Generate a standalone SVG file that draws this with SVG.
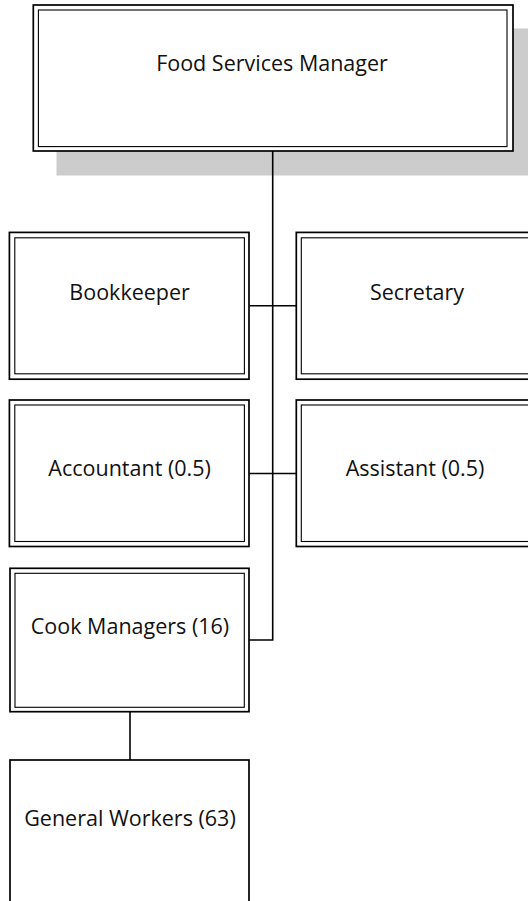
<svg xmlns="http://www.w3.org/2000/svg" width="528" height="901" viewBox="0 0 528 901">
  <style>
    .outer { fill: none; stroke: #000; stroke-width: 1.7; }
    .inner { fill: none; stroke: #000; stroke-width: 1.1; }
    .bg { fill: #fff; }
    .shadow { fill: #cccccc; }
    .label { font-family: "Open Sans", "Noto Sans", sans-serif; font-size: 21.5px; fill: #111; text-anchor: middle; }
    .link { fill: none; stroke: #000; stroke-width: 1.6; }
  </style>
  <rect width="528" height="901" fill="#fff"/>

  <!-- top manager box with drop shadow -->
  <g id="food-services-manager">
    <rect class="shadow" x="56.5" y="28.5" width="480" height="147"/>
    <rect class="bg" x="33.3" y="5" width="479.7" height="146"/>
    <rect class="outer" x="33.3" y="5" width="479.7" height="146"/>
    <rect class="inner" x="38.4" y="10" width="468.6" height="136.6"/>
    <text class="label" x="272" y="71">Food Services Manager</text>
  </g>

  <!-- connectors -->
  <g id="connectors">
    <polyline class="link" points="272.7,151 272.7,640 249,640"/>
    <line class="link" x1="249" y1="305.8" x2="296.3" y2="305.8"/>
    <line class="link" x1="249" y1="473.5" x2="296.3" y2="473.5"/>
    <line class="link" x1="130" y1="711.7" x2="130" y2="760"/>
  </g>

  <g id="bookkeeper">
    <rect class="bg outer" x="9.4" y="232.4" width="239.6" height="146.8"/>
    <rect class="inner" x="14.8" y="237.8" width="229.6" height="136"/>
    <text class="label" x="129.6" y="299.5">Bookkeeper</text>
  </g>

  <g id="secretary">
    <rect class="bg outer" x="296.3" y="232.4" width="239.6" height="146.8"/>
    <rect class="inner" x="301.3" y="237.8" width="229.6" height="136"/>
    <text class="label" x="417" y="299.5">Secretary</text>
  </g>

  <g id="accountant">
    <rect class="bg outer" x="9.4" y="400" width="239.6" height="146.5"/>
    <rect class="inner" x="14.8" y="405" width="229.6" height="136.5"/>
    <text class="label" x="129.6" y="476">Accountant (0.5)</text>
  </g>

  <g id="assistant">
    <rect class="bg outer" x="296.3" y="400" width="239.6" height="146.5"/>
    <rect class="inner" x="301.3" y="405" width="229.6" height="136.5"/>
    <text class="label" x="415" y="476">Assistant (0.5)</text>
  </g>

  <g id="cook-managers">
    <rect class="bg outer" x="10" y="568.3" width="239" height="143.4"/>
    <rect class="inner" x="15" y="573.3" width="229.3" height="134"/>
    <text class="label" x="130" y="633.5">Cook Managers (16)</text>
  </g>

  <g id="general-workers">
    <rect class="bg outer" x="10" y="760" width="239" height="150"/>
    <text class="label" x="130" y="825.5">General Workers (63)</text>
  </g>
</svg>
